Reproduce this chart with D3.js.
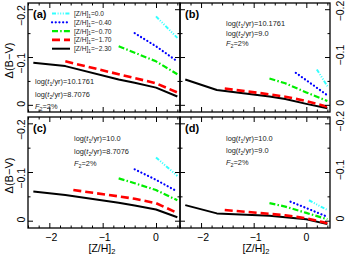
<!DOCTYPE html>
<html><head><meta charset="utf-8">
<script src="https://cdn.jsdelivr.net/npm/d3@7"></script>
<style>body{margin:0;background:#fff}svg{display:block}text{font-family:"Liberation Sans",Arial,sans-serif}</style>
</head><body><svg id="c" width="346" height="256"></svg>
<script>
// ---- data ----
const xBlack = [-2.3, -1.7, -0.7, -0.4, 0.0, 0.4];
const xRedA  = [-1.7, -0.7, -0.4, 0.0, 0.4];
const xRed   = [-1.55, -0.7, -0.4, 0.0, 0.4];
const xGreen = [-0.7, -0.4, 0.0, 0.4];
const xBlue  = [-0.4, 0.0, 0.4];
const xBlueB = [-0.2, 0.0, 0.4];
const xBlueD = [-0.3, 0.0, 0.4];
const xCyan  = [0.0, 0.4];
const xCyanB = [0.2, 0.4];
const xCyanD = [0.05, 0.4];

const aBlack = [-0.088, -0.081, -0.053, -0.046, -0.036, -0.0175];
const aRed   = [-0.091, -0.064, -0.056, -0.045, -0.026];
const aGreen = [-0.1225, -0.109, -0.091, -0.064];
const aBlue  = [-0.150, -0.1225, -0.091];
const aCyan  = [-0.185, -0.140];

const bBlack = [-0.053, -0.031, -0.0175, -0.012, -0.002, 0.007];
const bRed   = [-0.034, -0.022, -0.017, -0.008, 0.004];
const bGreen = [-0.055, -0.045, -0.026, -0.008];
const bBlue  = [-0.067, -0.0515, -0.020];
const bCyan  = [-0.074, -0.039];

const cBlack = [-0.060, -0.053, -0.037, -0.031, -0.023, -0.007];
const cRed   = [-0.063, -0.050, -0.045, -0.036, -0.016];
const cGreen = [-0.087, -0.077, -0.063, -0.042];
const cBlue  = [-0.1055, -0.084, -0.060];
const cCyan  = [-0.130, -0.092];

const dBlack = [-0.032, -0.015, -0.010, -0.007, -0.003, 0.007];
const dRed   = [-0.022, -0.014, -0.011, -0.005, 0.005];
const dGreen = [-0.036, -0.029, -0.016, -0.003];
const dBlue  = [-0.039, -0.026, -0.008];
const dCyan  = [-0.042, -0.022];

const legendLabels = ["0.0", "\u22120.40", "\u22120.70", "\u22121.70", "\u22122.30"];
const panelLetters = ["(a)", "(b)", "(c)", "(d)"];
const logT1 = ["10.1761", "10.1761", "10.0", "10.0"];
const logT2 = ["8.7076", "9.0", "8.7076", "9.0"];
const f2Text = "2%";
const xTickVals = [-2, -1, 0];
const xTickLabels = ["\u22122", "\u22121", "0"];
const yTickVals = [0, -0.1, -0.2];
const yTickLabels = ["0", "\u22120.1", "\u22120.2"];

// ---- styles ----
const styles = {
  cyan:  {color: "#33ffff", width: 2, dash: "4 1.6 1 1.6 1 1.6 1 1.6", cap: "butt"},
  blue:  {color: "#0000ff", width: 2.2, dash: "0.1 3.6", cap: "round"},
  green: {color: "#00ee00", width: 2.2, dash: "6 2.2 1.5 2.2", cap: "butt"},
  red:   {color: "#ff0000", width: 2.6, dash: "8 4", cap: "butt"},
  black: {color: "#000000", width: 2, dash: null, cap: "butt"}
};
const order = ["cyan", "blue", "green", "red", "black"];

const panels = [
  {x0: 28, x1: 180, y0: 3, y1: 112, left: true, bottom: false,
   s: {black: [xBlack, aBlack], red: [xRedA, aRed], green: [xGreen, aGreen], blue: [xBlue, aBlue], cyan: [xCyan, aCyan]},
   ann: {x: 35, ys: [83.5, 96.5, 108.5]}},
  {x0: 180, x1: 330, y0: 3, y1: 112, left: false, bottom: false,
   s: {black: [xBlack, bBlack], red: [xRed, bRed], green: [xGreen, bGreen], blue: [xBlueB, bBlue], cyan: [xCyanB, bCyan]},
   ann: {x: 226, ys: [25.5, 35.5, 45.5]}},
  {x0: 28, x1: 180, y0: 117, y1: 228, left: true, bottom: true,
   s: {black: [xBlack, cBlack], red: [xRed, cRed], green: [xGreen, cGreen], blue: [xBlue, cBlue], cyan: [xCyan, cCyan]},
   ann: {x: 74, ys: [141, 153.5, 165.5]}},
  {x0: 180, x1: 330, y0: 117, y1: 228, left: false, bottom: true,
   s: {black: [xBlack, dBlack], red: [xRed, dRed], green: [xGreen, dGreen], blue: [xBlueD, dBlue], cyan: [xCyanD, dCyan]},
   ann: {x: 226, ys: [141, 153, 164.5]}}
];

const svg = d3.select("#c");
const xDom = [-2.4, 0.45];
const yDom = [0.015, -0.213];

function richText(g, x, y, parts, size, color, subShift) {
  const sh = subShift || 0.3;
  const t = g.append("text").attr("x", x).attr("y", y).attr("font-size", size).attr("fill", color || "#111");
  let shifted = false;
  parts.forEach(p => {
    const ts = t.append("tspan").text(p.t);
    if (p.i) ts.attr("font-style", "italic");
    if (p.s && !shifted) { ts.attr("dy", size * sh).attr("font-size", size * 0.72); shifted = true; }
    else if (!p.s && shifted) { ts.attr("dy", -size * sh); shifted = false; }
    else if (p.s) ts.attr("font-size", size * 0.72);
  });
  return t;
}

panels.forEach((P, i) => {
  const x = d3.scaleLinear().domain(xDom).range([P.x0, P.x1]);
  const y = d3.scaleLinear().domain(yDom).range([P.y1, P.y0]);
  const g = svg.append("g");
  const clipId = "clip" + i;
  g.append("clipPath").attr("id", clipId).append("rect")
    .attr("x", P.x0).attr("y", P.y0).attr("width", P.x1 - P.x0).attr("height", P.y1 - P.y0);

  // series
  const line = d3.line().x(d => x(d[0])).y(d => y(d[1]));
  const sg = g.append("g").attr("clip-path", `url(#${clipId})`);
  ["black", "red", "green", "blue", "cyan"].forEach(k => {
    const [xs, ys] = P.s[k];
    const st = styles[k];
    sg.append("path").datum(xs.map((v, j) => [v, ys[j]]))
      .attr("d", line).attr("fill", "none")
      .attr("stroke", st.color).attr("stroke-width", st.width)
      .attr("stroke-dasharray", st.dash).attr("stroke-linecap", st.cap)
      .attr("stroke-linejoin", "round");
  });

  // axes (ticks inward)
  const minorX = d3.range(-2.4, 0.46, 0.2).map(v => +v.toFixed(2)).filter(v => !xTickVals.includes(v));
  const minorY = d3.range(0, -0.215, -0.05).map(v => +v.toFixed(3)).filter(v => !yTickVals.includes(v));
  const mk = (ax, tr, vals, size) => {
    const a = g.append("g").attr("transform", tr).call(ax.tickValues(vals).tickSize(size).tickFormat(""));
    a.select(".domain").remove();
    a.selectAll("line").attr("stroke", "#000").attr("stroke-width", 1);
  };
  mk(d3.axisBottom(x), `translate(0,${P.y1})`, xTickVals, -5);
  mk(d3.axisBottom(x), `translate(0,${P.y1})`, minorX, -2.5);
  mk(d3.axisTop(x), `translate(0,${P.y0})`, xTickVals, -5);
  mk(d3.axisTop(x), `translate(0,${P.y0})`, minorX, -2.5);
  mk(d3.axisLeft(y), `translate(${P.x0},0)`, yTickVals, -5);
  mk(d3.axisLeft(y), `translate(${P.x0},0)`, minorY, -2.5);
  mk(d3.axisRight(y), `translate(${P.x1},0)`, yTickVals, -5);
  mk(d3.axisRight(y), `translate(${P.x1},0)`, minorY, -2.5);

  g.append("rect").attr("x", P.x0).attr("y", P.y0).attr("width", P.x1 - P.x0).attr("height", P.y1 - P.y0)
    .attr("fill", "none").attr("stroke", "#000").attr("stroke-width", 1.3);

  // y tick labels
  yTickVals.forEach((v, j) => {
    if (P.left) {
      svg.append("text").attr("transform", `translate(21,${Math.max(y(v) - 4, 1)}) rotate(-90)`)
        .attr("text-anchor", "end").attr("dominant-baseline", "central")
        .attr("font-size", 10.5).text(yTickLabels[j]);
    } else {
      svg.append("text").attr("transform", `translate(339.5,${Math.max(y(v) - 2, 11)}) rotate(-90)`)
        .attr("text-anchor", "middle").attr("dominant-baseline", "central")
        .attr("font-size", 10.5).text(yTickLabels[j]);
    }
  });
  if (P.left) {
    const t = svg.append("text").attr("transform", `translate(9,${(P.y0 + P.y1) / 2 + 3}) rotate(-90)`)
      .attr("text-anchor", "middle").attr("dominant-baseline", "central").attr("font-size", 11);
    t.text("\u0394(B\u2212V)");
  }
  if (P.bottom) {
    xTickVals.forEach((v, j) => {
      svg.append("text").attr("x", x(v) + (v < 0 ? 2 : 0)).attr("y", 240.5)
        .attr("text-anchor", "middle").attr("font-size", 10.5).text(xTickLabels[j]);
    });
    const cx = (P.x0 + P.x1) / 2 + (P.left ? -2 : 1);
    const t = richText(svg, cx, 252, [{t: "[Z/H]"}, {t: "2", s: true}], 10.5, "#000", 0.22);
    t.attr("text-anchor", "middle");
  }

  // panel letter
  svg.append("text").attr("x", P.x0 + 5).attr("y", P.y0 + 15).attr("font-size", 11)
    .attr("font-weight", "bold").text(panelLetters[i]);

  // annotations
  richText(svg, P.ann.x, P.ann.ys[0], [{t: "log("}, {t: "t", i: true}, {t: "1", s: true}, {t: "/yr)=" + logT1[i]}], 7.4, "#222");
  richText(svg, P.ann.x, P.ann.ys[1], [{t: "log("}, {t: "t", i: true}, {t: "2", s: true}, {t: "/yr)=" + logT2[i]}], 7.4, "#222");
  richText(svg, P.ann.x, P.ann.ys[2], [{t: "F", i: true}, {t: "2", s: true}, {t: "=" + f2Text}], 7.4, "#222");

  // legend in (a)
  if (i === 0) {
    order.forEach((k, j) => {
      const st = styles[k];
      const ly = 13.5 + j * 8.8;
      svg.append("line").attr("x1", 52).attr("x2", 70).attr("y1", ly).attr("y2", ly)
        .attr("stroke", st.color).attr("stroke-width", st.width)
        .attr("stroke-dasharray", st.dash).attr("stroke-linecap", st.cap);
      richText(svg, 74, ly + 2.4, [{t: "[Z/H]"}, {t: "1", s: true}, {t: "=" + legendLabels[j]}], 6.6, "#222");
    });
  }
});
</script></body></html>
